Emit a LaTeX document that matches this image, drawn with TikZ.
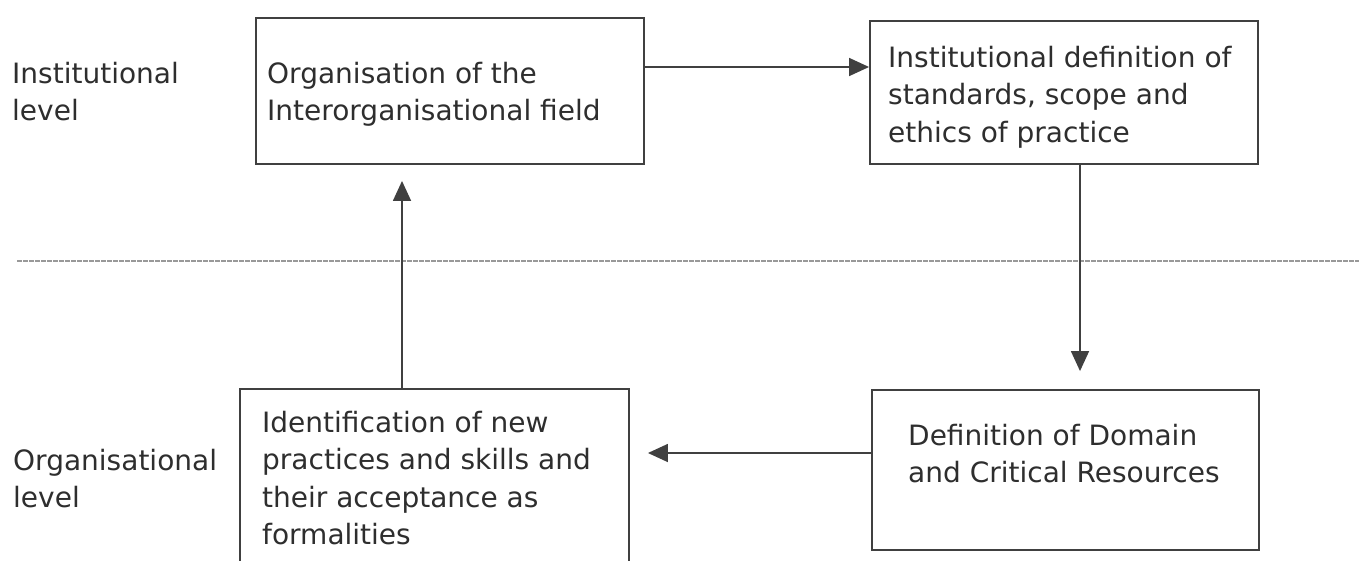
\documentclass[tikz,border=0pt]{standalone}
\usepackage{fontspec}
\setmainfont{DejaVu Sans}
\usetikzlibrary{arrows.meta}
\definecolor{ink}{HTML}{2E2E2E}
\definecolor{rule}{HTML}{404040}
\tikzset{
  box/.style={draw=rule, line width=1.9pt, rectangle, inner sep=0pt},
  txt/.style={anchor=north west, inner sep=0pt, align=left, text=ink,
    font=\fontsize{28}{37.5}\selectfont},
  flow/.style={draw=rule, line width=1.6pt,
    -{Triangle[length=20pt,width=18pt]}},
  levelline/.style={draw=gray!80, line width=2pt, dash pattern=on 5pt off 1pt}
}
\begin{document}
\begin{tikzpicture}[x=1pt,y=-1pt]
  \useasboundingbox[fill=white] (0,0) rectangle (1359,560);

  % level separator
  \coordinate (sepL) at (17,261);
  \coordinate (sepR) at (1359,261);
  \draw[levelline] (sepL) -- (sepR);

  % level labels (first baseline minus ascender height)
  \node[txt] (linst) at (12,61.7) {Institutional\\level};
  \node[txt] (lorg)  at (13,448.7) {Organisational\\level};

  % boxes
  \node[box, minimum width=388pt, minimum height=146pt] (A) at (450,91) {};
  \node[box, minimum width=388pt, minimum height=143pt] (B) at (1064,92.5) {};
  \node[box, minimum width=389pt, minimum height=176pt] (C) at (434.5,477) {};
  \node[box, minimum width=387pt, minimum height=160pt] (D) at (1065.5,470) {};

  % box texts
  \node[txt] (At) at (267,61.7) {Organisation of the\\Interorganisational field};
  \node[txt] (Bt) at (888,45.7) {Institutional definition of\\standards, scope and\\ethics of practice};
  \node[txt] (Ct) at (262,410.7) {Identification of new\\practices and skills and\\their acceptance as\\formalities};
  \node[txt] (Dt) at (908,423.7) {Definition of Domain\\and Critical Resources};

  % connector guides
  \coordinate (abY) at (0,67);
  \coordinate (bdX) at (1080,0);
  \coordinate (dcY) at (0,453);
  \coordinate (caX) at (402,0);

  % cycle of arrows
  \draw[flow] (A.east |- abY) -- (B.west |- abY);
  \draw[flow, shorten >=18pt] (B.south -| bdX) -- (D.north -| bdX);
  \draw[flow, shorten >=18pt] (D.west |- dcY) -- (C.east |- dcY);
  \draw[flow, shorten >=16pt] (C.north -| caX) -- (A.south -| caX);
\end{tikzpicture}
\end{document}
